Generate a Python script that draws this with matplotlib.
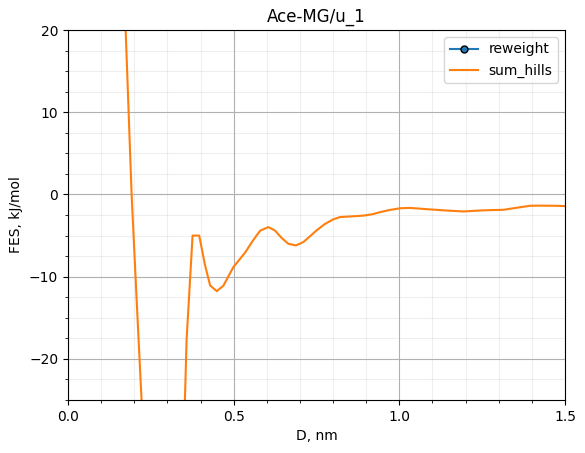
import matplotlib
matplotlib.use("Agg")
import matplotlib.pyplot as plt
from matplotlib.ticker import MultipleLocator

# reweight series (no points inside the visible window)
reweight_d = []
reweight_fes = []

# sum_hills series
hills_d = [0.150, 0.160, 0.174, 0.192, 0.208, 0.222, 0.240, 0.280, 0.320, 0.340,
           0.358, 0.376, 0.396, 0.413, 0.429, 0.449, 0.469, 0.499, 0.534, 0.560,
           0.580, 0.605, 0.625, 0.645, 0.665, 0.688, 0.710, 0.730, 0.750, 0.775,
           0.800, 0.821, 0.850, 0.891, 0.920, 0.942, 0.970, 1.002, 1.032, 1.060,
           1.093, 1.140, 1.193, 1.244, 1.280, 1.314, 1.354, 1.394, 1.420, 1.445,
           1.475, 1.500]
hills_fes = [45.0, 34.0, 20.0, 0.0, -13.5, -25.0, -40.0, -55.0, -55.0, -43.5,
             -17.6, -5.0, -5.0, -8.5, -11.07, -11.76, -11.1, -8.84, -7.1, -5.5,
             -4.4, -3.97, -4.4, -5.3, -6.0, -6.2, -5.8, -5.1, -4.38, -3.6,
             -3.04, -2.75, -2.68, -2.58, -2.4, -2.15, -1.9, -1.68, -1.64, -1.72,
             -1.82, -1.95, -2.07, -1.95, -1.9, -1.87, -1.62, -1.38, -1.36, -1.37,
             -1.38, -1.42]

fig = plt.figure(figsize=(5.85, 4.53), dpi=100)
ax = fig.add_axes([68/585, 53/453, 497/585, 370/453])

ax.plot(reweight_d, reweight_fes, marker='o', markersize=5,
        markeredgecolor='black', label='reweight')
ax.plot(hills_d, hills_fes, label='sum_hills')

ax.set_xlim(0, 1.5)
ax.set_ylim(-25, 20)
ax.xaxis.set_major_locator(MultipleLocator(0.5))
ax.xaxis.set_minor_locator(MultipleLocator(0.1))
ax.yaxis.set_major_locator(MultipleLocator(10))
ax.yaxis.set_minor_locator(MultipleLocator(2.5))
ax.grid(which='major')
ax.grid(which='minor', alpha=0.2)

ax.set_title('Ace-MG/u_1')
ax.set_xlabel('D, nm')
ax.set_ylabel('FES, kJ/mol')
ax.legend(loc='upper right')

fig.savefig('out.png', dpi=100)
